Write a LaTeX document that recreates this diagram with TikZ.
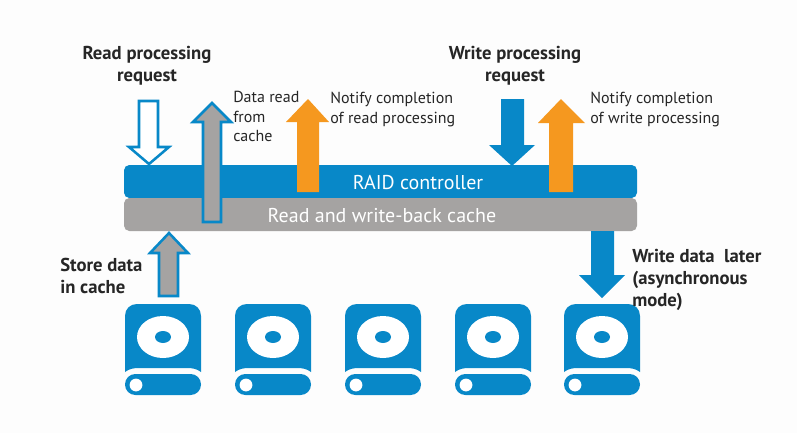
\documentclass[tikz,border=0pt]{standalone}
\usepackage{fontspec}
\setmainfont{PT Sans}
\definecolor{raidblue}{HTML}{0888C8}
\definecolor{cachegray}{HTML}{A5A3A2}
\definecolor{notifyorange}{HTML}{F5981F}
\definecolor{paper}{HTML}{FDFDFD}
\tikzset{
  boldlabel/.style={text=black!85, font=\fontsize{14pt}{16.5pt}\selectfont\bfseries, align=center, inner sep=0pt},
  thinlabel/.style={text=black!85, font=\fontsize{12pt}{14.6pt}\selectfont, align=left, anchor=north west, inner sep=0pt},
  barlabel/.style={text=white, font=\fontsize{15pt}{16pt}\selectfont, inner sep=0pt},
  outlined/.style={draw=raidblue, line width=1.9pt, miter limit=10}
}

\begin{document}
\begin{tikzpicture}[x=0.75pt,y=-0.75pt]
    \useasboundingbox (0,0) rectangle (797,433);
    \fill[paper] (0,0) rectangle (797,433);

    % RAID controller and cache bars
    \fill[raidblue, rounded corners=4pt] (124,165) rectangle (637,198);
    \fill[cachegray, rounded corners=4pt] (124,198) rectangle (637,231);
    \node[barlabel] (controller) at (418,183) {RAID controller};
    \node[barlabel] (cache) at (382,216) {Read and write-back cache};

    % Read processing request
    \draw[outlined, fill=white] (139,101) -- (158,101) -- (158,147) -- (169,147) -- (149,164)
        -- (129,147) -- (139,147) -- cycle;

    % Data read from cache
    \draw[outlined, fill=cachegray] (203,222) -- (203,122) -- (193,122) -- (212,103) -- (231,122)
        -- (221,122) -- (221,222) -- cycle;

    % Notify completion of read
    \fill[notifyorange] (297,192) -- (297,122) -- (286,122) -- (308,99) -- (329,122)
        -- (319,122) -- (319,192) -- cycle;

    % Store data in cache
    \draw[outlined, fill=cachegray] (159,296) -- (159,253) -- (150,253) -- (169,233) -- (188,253)
        -- (178,253) -- (178,296) -- cycle;

    % Write processing request
    \fill[raidblue] (501,99) -- (524,99) -- (524,145) -- (535,145) -- (512,166)
        -- (489,145) -- (501,145) -- cycle;

    % Notify completion of write
    \fill[notifyorange] (549,192) -- (549,123) -- (538,123) -- (561,99) -- (585,123)
        -- (573,123) -- (573,192) -- cycle;

    % Write data later
    \fill[raidblue] (591,231) -- (614,231) -- (614,275) -- (625,275) -- (602,298)
        -- (579,275) -- (591,275) -- cycle;

    % The five disks
    \foreach \x in {0,110,220,330,439} {
        \begin{scope}[xshift=\x*0.75pt]
            \fill[raidblue] (125,372) -- (125,316) .. controls (125,309) and (130,304) .. (137,304)
                -- (189,304) .. controls (196,304) and (201,309) .. (201,316) -- (201,372)
                .. controls (197,369) and (193,368) .. (187,368) -- (139,368)
                .. controls (133,368) and (129,369) .. (125,372) -- cycle;
            \fill[white] (163,337) ellipse (26 and 21);
            \fill[raidblue] (163,337) ellipse (8 and 6);
            \fill[raidblue, rounded corners=7.8pt] (125,374) rectangle (201,395);
            \fill[white] (136,385) circle (4.8pt);
        \end{scope}
    }

    % Labels
    \node[boldlabel] (readreq) at (147,66) {Read processing\\request};
    \node[boldlabel] (writereq) at (515,66) {Write processing\\request};
    \node[boldlabel, align=left, anchor=west] (store) at (60,276) {Store data\\in cache};
    \node[boldlabel, align=left, anchor=west] (later) at (632,280) {Write data\ \ later\\(asynchronous\\mode)};
    \node[thinlabel] (dataread) at (233,91) {Data read\\from\\cache};
    \node[thinlabel] (notifyread) at (330,92) {Notify completion\\of read processing};
    \node[thinlabel] (notifywrite) at (590,92) {Notify completion\\of write processing};
\end{tikzpicture}
\end{document}
